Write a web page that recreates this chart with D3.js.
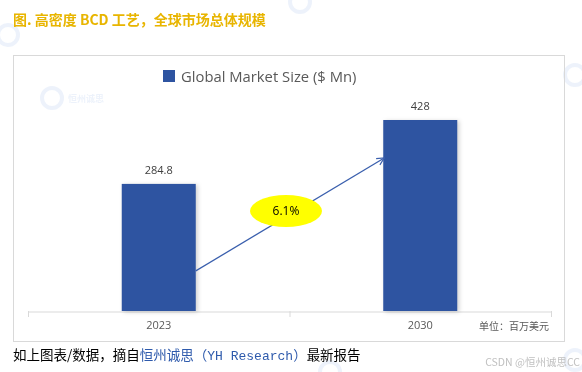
<!DOCTYPE html>
<html>
<head>
<meta charset="utf-8">
<script src="https://cdn.jsdelivr.net/npm/d3@7"></script>
<style>
    body { margin: 0; background: #fff; }
    svg { display: block; }
</style>
</head>
<body>
<div id="chart"></div>
<script>
// chart data
const years = ["2023", "2030"];
const market_size = [284.8, 428];
const value_labels = ["284.8", "428"];
const cagr_label = "6.1%";
const legend_label = "Global Market Size ($ Mn)";
const title_text = "图. 高密度 BCD 工艺，全球市场总体规模";
const unit_text = "单位：百万美元";

function draw_chart() {
    const width = 582;
    const height = 372;
    const bar_color = "#2E54A1";
    const arrow_color = "#3A5FAD";

    const svg = d3.select("#chart").append("svg")
        .attr("width", width)
        .attr("height", height);

    const defs = svg.append("defs");
    defs.append("marker")
        .attr("id", "arrow")
        .attr("viewBox", "0 0 10 10")
        .attr("refX", 9)
        .attr("refY", 5)
        .attr("markerWidth", 7)
        .attr("markerHeight", 7)
        .attr("orient", "auto")
        .append("path")
        .attr("d", "M1,1 L9,5 L1,9")
        .attr("fill", "none")
        .attr("stroke", arrow_color)
        .attr("stroke-width", 1.3);

    // faint watermarks
    const wm = svg.append("g").attr("opacity", 0.1);
    const wm_spots = [[52, 98, true], [300, 2, false], [575, 75, false], [8, 35, false], [575, 360, false], [330, 372, false]];
    wm_spots.forEach(([x, y, with_text]) => {
        const g = wm.append("g").attr("transform", `translate(${x},${y})`);
        g.append("circle").attr("r", 10).attr("fill", "none")
            .attr("stroke", "#4a7fd6").attr("stroke-width", 4);
        if (with_text) {
            g.append("text").attr("x", 16).attr("y", 4)
                .attr("font-family", "Noto Sans CJK SC").attr("font-size", 9)
                .attr("font-weight", "bold").attr("fill", "#4a7fd6")
                .text("恒州诚思");
        }
    });

    // title
    svg.append("text")
        .attr("x", 13)
        .attr("y", 25)
        .attr("font-family", "Noto Sans CJK SC")
        .attr("font-size", 14)
        .attr("font-weight", "bold")
        .attr("fill", "#E8B500")
        .text(title_text);

    // chart frame
    svg.append("rect")
        .attr("x", 13.5)
        .attr("y", 55.5)
        .attr("width", 551)
        .attr("height", 286)
        .attr("fill", "none")
        .attr("stroke", "#d9d9d9");

    // legend
    svg.append("rect")
        .attr("x", 163)
        .attr("y", 70)
        .attr("width", 12)
        .attr("height", 12)
        .attr("fill", bar_color);
    svg.append("text")
        .attr("x", 181)
        .attr("y", 82)
        .attr("font-family", "Open Sans, Noto Sans")
        .attr("font-size", 14.8)
        .attr("fill", "#595959")
        .text(legend_label);

    const x = d3.scaleBand()
        .domain(years)
        .range([28, 551]);

    const y = d3.scaleLinear()
        .domain([0, 428])
        .range([311, 120]);

    const bar_w = x.bandwidth() * 0.283;

    // axis
    const axis = svg.append("g")
        .attr("transform", "translate(0,311.5)")
        .call(d3.axisBottom(x).tickSize(0).tickPadding(10));
    axis.select(".domain").attr("stroke", "#d9d9d9");
    axis.selectAll("text")
        .attr("font-family", "Open Sans, Noto Sans")
        .attr("font-size", 11)
        .attr("fill", "#595959");
    // band boundary ticks
    const bounds = [x.range()[0], x(years[1]), x.range()[1]];
    svg.append("g").selectAll("line")
        .data(bounds)
        .join("line")
        .attr("x1", d => d + 0.5)
        .attr("x2", d => d + 0.5)
        .attr("y1", 311)
        .attr("y2", 317)
        .attr("stroke", "#d9d9d9");

    // bars
    svg.append("g").selectAll("rect")
        .data(market_size)
        .join("rect")
        .attr("x", (d, i) => x(years[i]) + x.bandwidth() / 2 - bar_w / 2)
        .attr("y", d => y(d))
        .attr("width", bar_w)
        .attr("height", d => y(0) - y(d))
        .attr("fill", bar_color)
        .style("filter", "drop-shadow(2px 1px 2px rgba(0,0,0,0.18))");

    // value labels
    svg.append("g").selectAll("text")
        .data(market_size)
        .join("text")
        .attr("x", (d, i) => x(years[i]) + x.bandwidth() / 2)
        .attr("y", d => y(d) - 10)
        .attr("text-anchor", "middle")
        .attr("font-family", "Open Sans, Noto Sans")
        .attr("font-size", 11)
        .attr("fill", "#404040")
        .text((d, i) => value_labels[i]);

    // growth arrow
    const x0 = x(years[0]) + x.bandwidth() / 2 + bar_w / 2;
    const x1 = x(years[1]) + x.bandwidth() / 2 - bar_w / 2;
    const ya = y(market_size[0]) + 87;
    const yb = y(market_size[1]) + 38;
    svg.append("line")
        .attr("x1", x0)
        .attr("y1", ya)
        .attr("x2", x1 + 1)
        .attr("y2", yb)
        .attr("stroke", arrow_color)
        .attr("stroke-width", 1.3)
        .attr("marker-end", "url(#arrow)");

    const cx = 286, cy = 211;
    svg.append("ellipse")
        .attr("cx", cx)
        .attr("cy", cy)
        .attr("rx", 36)
        .attr("ry", 16)
        .attr("fill", "#FFFF00");
    svg.append("text")
        .attr("x", cx)
        .attr("y", cy + 4)
        .attr("text-anchor", "middle")
        .attr("font-family", "Open Sans, Noto Sans")
        .attr("font-size", 12)
        .attr("fill", "#000")
        .text(cagr_label);

    // unit
    svg.append("text")
        .attr("x", 549)
        .attr("y", 330)
        .attr("text-anchor", "end")
        .attr("font-family", "Noto Sans CJK SC")
        .attr("font-size", 10)
        .attr("fill", "#595959")
        .text(unit_text);

    // source line
    const src = svg.append("text")
        .attr("x", 13)
        .attr("y", 360)
        .attr("font-family", "Noto Sans CJK SC")
        .attr("font-size", 13.5)
        .attr("fill", "#000");
    src.append("tspan").text("如上图表/数据，摘自");
    src.append("tspan").attr("fill", "#2E5AAC").text("恒州诚思");
    src.append("tspan").attr("fill", "#2E5AAC").text("（");
    src.append("tspan").attr("fill", "#2E5AAC")
        .attr("font-family", "Liberation Mono, DejaVu Sans Mono")
        .attr("font-size", 13).text("YH Research");
    src.append("tspan").attr("fill", "#2E5AAC").text("）");
    src.append("tspan").text("最新报告");

    svg.append("text")
        .attr("x", 580)
        .attr("y", 366)
        .attr("text-anchor", "end")
        .attr("font-family", "Noto Sans CJK SC")
        .attr("font-size", 10.5)
        .attr("fill", "#c0c0c0")
        .text("CSDN @恒州诚思CC");
}

draw_chart();
</script>
</body>
</html>
